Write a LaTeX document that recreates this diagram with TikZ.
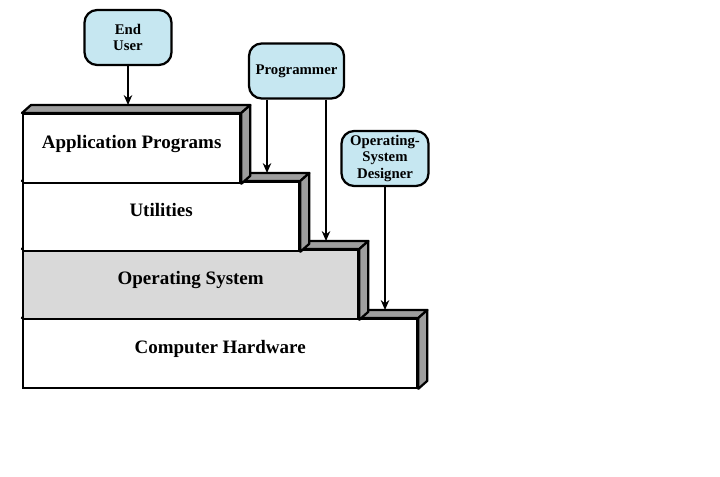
\documentclass[tikz,border=0pt]{standalone}
\usepackage{fontspec}
\setmainfont{Liberation Serif}
\usetikzlibrary{arrows.meta}

\definecolor{usercyan}{RGB}{198,231,241}
\definecolor{facegray}{RGB}{158,158,158}
\definecolor{osgray}{RGB}{217,217,217}

\begin{document}
\begin{tikzpicture}[
    x=0.025cm, y=-0.025cm,
    layer/.style={draw, line width=1.6pt, fill=white, anchor=north west,
        minimum height=1.7125cm, inner sep=0pt, text height=6pt, text depth=6pt,
        font=\fontsize{13.5}{15}\selectfont\bfseries},
    face/.style={draw, line width=1.6pt, fill=facegray, line join=round},
    user/.style={draw, line width=1.6pt, fill=usercyan, rounded corners=9pt,
        align=center, minimum height=1.375cm, minimum width=2.175cm, inner sep=1pt,
        font=\fontsize{10.5}{11.5}\selectfont\bfseries},
    >={Stealth[length=7pt, width=6pt]},
    line width=1.3pt
]
    \useasboundingbox (0,0) rectangle (720,477);

    % 层 (从下往上画)
    \node[layer, minimum width=9.85cm] (hw) at (22,318) {Computer Hardware};
    \filldraw[face] (hw.north west) -- ++(9,-8) -- ([shift={(9,-8)}]hw.north east) -- (hw.north east) -- cycle;
    \filldraw[face] (hw.north east) -- ++(9,-8) -- ([shift={(9,-8)}]hw.south east) -- (hw.south east) -- cycle;

    \node[layer, fill=osgray, minimum width=8.375cm] (os) at (22,249) {Operating System};
    \filldraw[face] (os.north west) -- ++(9,-8) -- ([shift={(9,-8)}]os.north east) -- (os.north east) -- cycle;
    \filldraw[face] (os.north east) -- ++(9,-8) -- ([shift={(9,-8)}]os.south east) -- (os.south east) -- cycle;

    \node[layer, minimum width=6.9cm] (util) at (22,181) {Utilities};
    \filldraw[face] (util.north west) -- ++(9,-8) -- ([shift={(9,-8)}]util.north east) -- (util.north east) -- cycle;
    \filldraw[face] (util.north east) -- ++(9,-8) -- ([shift={(9,-8)}]util.south east) -- (util.south east) -- cycle;

    \node[layer, minimum width=5.425cm] (app) at (22,113) {Application Programs};
    \filldraw[face] (app.north west) -- ++(9,-8) -- ([shift={(9,-8)}]app.north east) -- (app.north east) -- cycle;
    \filldraw[face] (app.north east) -- ++(9,-8) -- ([shift={(9,-8)}]app.south east) -- (app.south east) -- cycle;

    % 用户
    \node[user] (eu) at (128,37.5) {End\\User};
    \node[user, minimum width=2.375cm] (pg) at (296.5,71) {Programmer};
    \node[user] (osd) at (385,158.5) {Operating-\\System\\Designer};

    % 箭头终点 (各层顶面后沿)
    \coordinate (app-in) at (128,105);
    \coordinate (util-in) at (267,173);
    \coordinate (os-in) at (326,241);
    \coordinate (hw-in) at (385,310);

    \draw[->] (eu.south) -- (app-in);
    \draw[->] (pg.south -| util-in) -- (util-in);
    \draw[->] (pg.south -| os-in) -- (os-in);
    \draw[->] (osd.south) -- (hw-in);

\end{tikzpicture}
\end{document}
